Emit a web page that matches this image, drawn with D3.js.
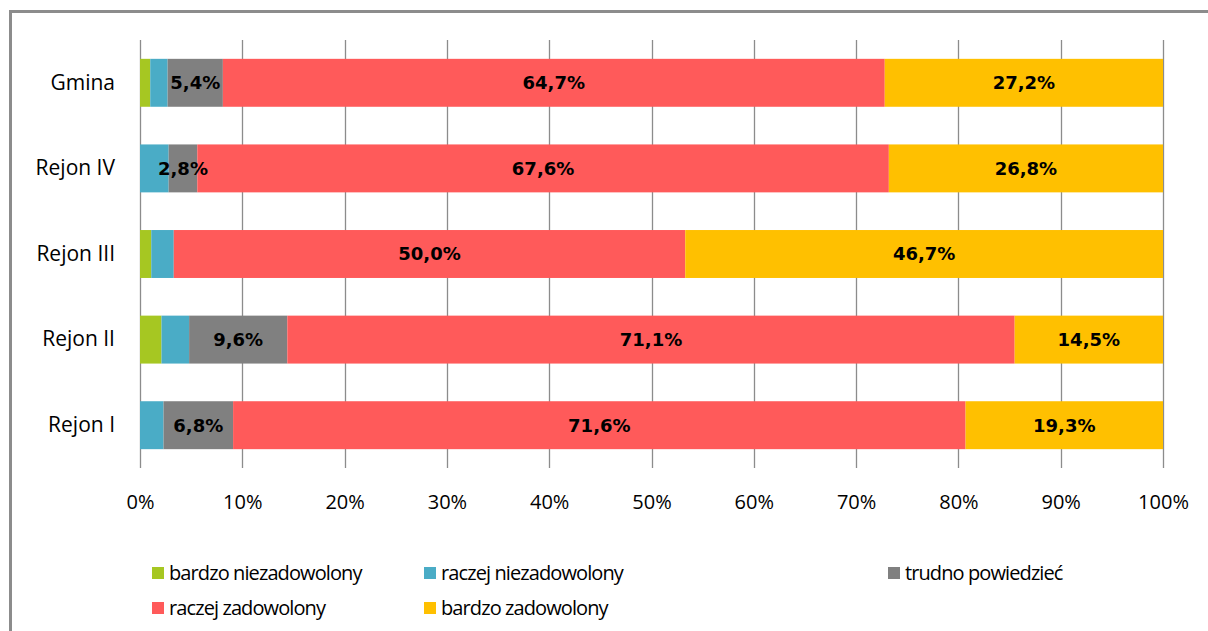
<!DOCTYPE html>
<html>
<head>
<meta charset="utf-8">
<script src="https://cdn.jsdelivr.net/npm/d3@7"></script>
<style>
  body { margin: 0; background: #fff; }
  svg { display: block; }
</style>
</head>
<body>
<script>
// categories (top to bottom) and the five answer series, in %
const categories = ["Gmina", "Rejon IV", "Rejon III", "Rejon II", "Rejon I"];
const seriesNames = ["bardzo niezadowolony", "raczej niezadowolony", "trudno powiedzieć", "raczej zadowolony", "bardzo zadowolony"];
const bardzoNiezad = [1.0, 0.0, 1.1, 2.1, 0.0];
const raczejNiezad = [1.7, 2.8, 2.2, 2.7, 2.3];
const trudno      = [5.4, 2.8, 0.0, 9.6, 6.8];
const raczejZad   = [64.7, 67.6, 50.0, 71.1, 71.6];
const bardzoZad   = [27.2, 26.8, 46.7, 14.5, 19.3];
const tickValues = [0, 10, 20, 30, 40, 50, 60, 70, 80, 90, 100];
// which series carry a data label
const labelled = [false, false, true, true, true];

const colors = ["#a6c722", "#4aacc6", "#808080", "#ff5a5a", "#ffc000"];

const W = 1208, H = 631;
const plot = {left: 140, right: 1163, top: 40, bottom: 468};

const svg = d3.select("body").append("svg")
    .attr("width", W)
    .attr("height", H);

// chart frame (runs off the right and bottom edge)
svg.append("rect")
    .attr("x", 10.5).attr("y", 11.5)
    .attr("width", W + 20).attr("height", H + 20)
    .attr("fill", "none")
    .attr("stroke", "#8c8c8c")
    .attr("stroke-width", 3);

const x = d3.scaleLinear().domain([0, 100]).range([plot.left, plot.right]);
const y = d3.scaleBand().domain(categories).range([plot.top, plot.bottom])
    .paddingInner(0.44).paddingOuter(0.22);

// build rows for the stack
const rows = categories.map((c, i) => ({
    cat: c,
    s0: bardzoNiezad[i], s1: raczejNiezad[i], s2: trudno[i], s3: raczejZad[i], s4: bardzoZad[i]
}));
const stack = d3.stack().keys(["s0", "s1", "s2", "s3", "s4"])(rows);

// vertical gridlines
svg.append("g")
    .selectAll("line")
    .data(tickValues)
    .join("line")
        .attr("x1", d => Math.round(x(d)) + 0.5)
        .attr("x2", d => Math.round(x(d)) + 0.5)
        .attr("y1", plot.top)
        .attr("y2", plot.bottom)
        .attr("stroke", "#8c8c8c")
        .attr("stroke-width", 1.3);

// bars
const layers = svg.append("g")
    .selectAll("g")
    .data(stack)
    .join("g")
        .attr("fill", (d, i) => colors[i]);

layers.selectAll("rect")
    .data(d => d)
    .join("rect")
        .attr("x", d => x(d[0]))
        .attr("y", d => y(d.data.cat))
        .attr("width", d => x(d[1]) - x(d[0]))
        .attr("height", y.bandwidth());

// data labels
const fmt = v => v.toFixed(1).replace(".", ",") + "%";
stack.forEach((layer, i) => {
    if (!labelled[i]) return;
    svg.append("g")
        .selectAll("text")
        .data(layer.filter(d => d[1] - d[0] > 0))
        .join("text")
            .attr("x", d => x((d[0] + d[1]) / 2))
            .attr("y", d => y(d.data.cat) + y.bandwidth() / 2)
            .attr("dy", "0.36em")
            .attr("text-anchor", "middle")
            .attr("font-family", "DejaVu Sans")
            .attr("font-weight", "bold")
            .attr("font-size", "18px")
            .attr("fill", "#000")
            .text(d => fmt(d[1] - d[0]));
});

// category axis labels
const yAxis = svg.append("g")
    .attr("transform", "translate(" + plot.left + ",0)")
    .call(d3.axisLeft(y).tickSize(0).tickPadding(25));
yAxis.select(".domain").remove();
yAxis.selectAll("text")
    .attr("font-family", "Open Sans")
    .attr("font-size", "21px")
    .attr("fill", "#000");

// percentage axis labels
const xAxis = svg.append("g")
    .attr("transform", "translate(0," + plot.bottom + ")")
    .call(d3.axisBottom(x).tickValues(tickValues).tickSize(0).tickPadding(27).tickFormat(d => d + "%"));
xAxis.select(".domain").remove();
xAxis.selectAll("text")
    .attr("font-family", "Open Sans")
    .attr("font-size", "20px")
    .attr("fill", "#000");

// legend
const legendPos = [
    {x: 152, y: 573}, {x: 424, y: 573}, {x: 888, y: 573},
    {x: 152, y: 608}, {x: 424, y: 608}
];
const legend = svg.append("g")
    .selectAll("g")
    .data(seriesNames)
    .join("g")
        .attr("transform", (d, i) => "translate(" + legendPos[i].x + "," + legendPos[i].y + ")");
legend.append("rect")
    .attr("x", 0).attr("y", -6)
    .attr("width", 12).attr("height", 12)
    .attr("fill", (d, i) => colors[i]);
legend.append("text")
    .attr("x", 17)
    .attr("dy", "0.35em")
    .attr("font-family", "Open Sans")
    .attr("font-size", "20px")
    .attr("letter-spacing", "-0.9px")
    .attr("fill", "#000")
    .text(d => d);
</script>
</body>
</html>
